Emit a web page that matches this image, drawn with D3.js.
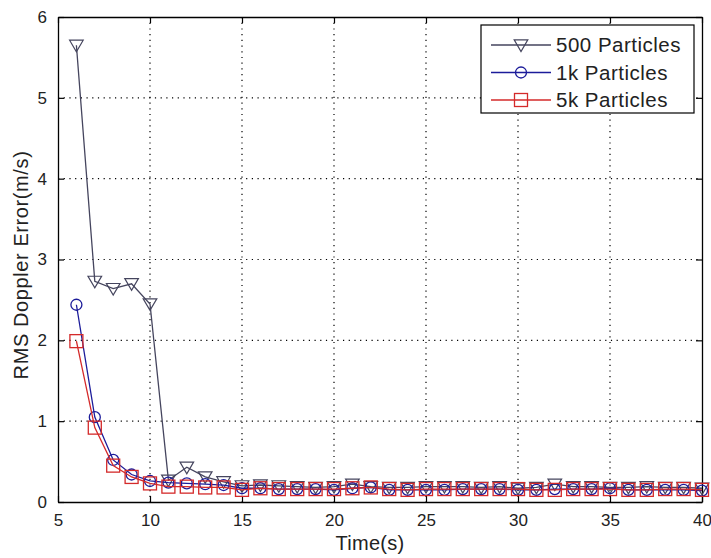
<!DOCTYPE html>
<html>
<head>
<meta charset="utf-8">
<script src="https://cdn.jsdelivr.net/npm/d3@7"></script>
<style>
  html, body { margin: 0; padding: 0; background: #fff; }
  svg { display: block; }
  text { font-family: "Liberation Sans", Arial, sans-serif; fill: #222; }
</style>
</head>
<body>
<svg id="chart" width="711" height="558"></svg>
<script>
// Time axis (s)
const times = d3.range(6, 41);

// RMS Doppler error (m/s) for each particle count
const err500 = [5.65, 2.73, 2.64, 2.70, 2.45, 0.27, 0.43, 0.31, 0.25,
  0.20, 0.21, 0.20, 0.19, 0.18, 0.19, 0.22, 0.19, 0.18, 0.18, 0.19, 0.19, 0.19,
  0.18, 0.19, 0.17, 0.18, 0.22, 0.19, 0.19, 0.18, 0.18, 0.19, 0.18, 0.18, 0.17];
const err1k = [2.44, 1.05, 0.52, 0.34, 0.26, 0.24, 0.23, 0.22, 0.21,
  0.17, 0.17, 0.16, 0.16, 0.16, 0.15, 0.17, 0.18, 0.15, 0.15, 0.15, 0.15, 0.16,
  0.16, 0.16, 0.15, 0.15, 0.16, 0.16, 0.16, 0.17, 0.15, 0.15, 0.15, 0.15, 0.14];
const err5k = [1.99, 0.92, 0.45, 0.31, 0.23, 0.19, 0.19, 0.18, 0.18,
  0.15, 0.17, 0.16, 0.16, 0.16, 0.16, 0.17, 0.18, 0.16, 0.15, 0.16, 0.16, 0.16,
  0.16, 0.16, 0.16, 0.15, 0.15, 0.16, 0.16, 0.16, 0.15, 0.15, 0.16, 0.16, 0.15];

const seriesNames = ["500 Particles", "1k Particles", "5k Particles"];
const xTicks = [5, 10, 15, 20, 25, 30, 35, 40];
const yTicks = [0, 1, 2, 3, 4, 5, 6];

const series = [
  { name: seriesNames[0], values: err500, color: "#45455e", marker: "tri" },
  { name: seriesNames[1], values: err1k,  color: "#1c1c9a", marker: "circle" },
  { name: seriesNames[2], values: err5k,  color: "#d42a2a", marker: "square" }
];

const svg = d3.select("#chart");
const L = 58, R = 702, T = 17, B = 502;

const x = d3.scaleLinear().domain([5, 40]).range([L, R]);
const y = d3.scaleLinear().domain([0, 6]).range([B, T]);
const fmt = d3.format("d");

// dotted grid
const grid = svg.append("g");
grid.selectAll("line.gx").data(xTicks.slice(1, -1)).join("line")
  .attr("x1", d => x(d)).attr("x2", d => x(d)).attr("y1", T).attr("y2", B)
  .attr("stroke", "#000").attr("stroke-width", 1.2).attr("stroke-dasharray", "1.2,4.5");
grid.selectAll("line.gy").data(yTicks.slice(1, -1)).join("line")
  .attr("y1", d => y(d)).attr("y2", d => y(d)).attr("x1", L).attr("x2", R)
  .attr("stroke", "#000").attr("stroke-width", 1.2).attr("stroke-dasharray", "1.2,4.5");

// axes with inward ticks, plus mirrored ticks on top/right
const tickLen = 6;
const axB = svg.append("g").attr("transform", `translate(0,${B})`)
  .call(d3.axisBottom(x).tickValues(xTicks).tickFormat(fmt).tickSizeInner(-tickLen).tickSizeOuter(0).tickPadding(12));
const axT = svg.append("g").attr("transform", `translate(0,${T})`)
  .call(d3.axisTop(x).tickValues(xTicks).tickSizeInner(-tickLen).tickSizeOuter(0).tickFormat(""));
const axL = svg.append("g").attr("transform", `translate(${L},0)`)
  .call(d3.axisLeft(y).tickValues(yTicks).tickFormat(fmt).tickSizeInner(-tickLen).tickSizeOuter(0).tickPadding(11));
const axR = svg.append("g").attr("transform", `translate(${R},0)`)
  .call(d3.axisRight(y).tickValues(yTicks).tickSizeInner(-tickLen).tickSizeOuter(0).tickFormat(""));
[axB, axT, axL, axR].forEach(a => {
  a.select(".domain").attr("stroke", "#000").attr("stroke-width", 1.3);
  a.selectAll(".tick line").attr("stroke", "#000").attr("stroke-width", 1.2);
  a.selectAll(".tick text").attr("font-size", 17).attr("fill", "#222")
    .attr("font-family", "Liberation Sans, Arial, sans-serif");
});

// data lines and markers
const line = d3.line().x((d, i) => x(times[i])).y(d => y(d));

function drawMarker(g, type, cx, cy, color) {
  if (type === "tri") {
    const s = 6.8;
    g.append("path")
      .attr("d", `M${cx - s},${cy - s * 0.75} L${cx + s},${cy - s * 0.75} L${cx},${cy + s * 0.95} Z`)
      .attr("fill", "none").attr("stroke", color).attr("stroke-width", 1.2);
  } else if (type === "circle") {
    g.append("circle").attr("cx", cx).attr("cy", cy).attr("r", 5.5)
      .attr("fill", "none").attr("stroke", color).attr("stroke-width", 1.3);
  } else {
    const s = 6.5;
    g.append("rect").attr("x", cx - s).attr("y", cy - s).attr("width", 2 * s).attr("height", 2 * s)
      .attr("fill", "none").attr("stroke", color).attr("stroke-width", 1.3);
  }
}

series.forEach(s => {
  const g = svg.append("g");
  g.append("path").datum(s.values).attr("d", line)
    .attr("fill", "none").attr("stroke", s.color).attr("stroke-width", 1.3);
  s.values.forEach((v, i) => drawMarker(g, s.marker, x(times[i]), y(v), s.color));
});

// axis titles
svg.append("text").attr("x", 370).attr("y", 550).attr("text-anchor", "middle")
  .attr("font-size", 20).attr("letter-spacing", 0.3).text("Time(s)");
svg.append("text").attr("transform", `translate(28,265) rotate(-90)`)
  .attr("text-anchor", "middle").attr("font-size", 20).attr("letter-spacing", 0.6)
  .text("RMS Doppler Error(m/s)");

// legend
const lg = svg.append("g");
lg.append("rect").attr("x", 481).attr("y", 25).attr("width", 213).attr("height", 88)
  .attr("fill", "#fff").attr("stroke", "#000").attr("stroke-width", 1.2);
series.forEach((s, i) => {
  const ly = 45 + i * 27.5;
  lg.append("line").attr("x1", 491).attr("x2", 551).attr("y1", ly).attr("y2", ly)
    .attr("stroke", s.color).attr("stroke-width", 1.3);
  drawMarker(lg, s.marker, 521, ly, s.color);
  lg.append("text").attr("x", 556).attr("y", ly + 7).attr("font-size", 20.5)
    .attr("letter-spacing", 0.5).text(s.name);
});
</script>
</body>
</html>
